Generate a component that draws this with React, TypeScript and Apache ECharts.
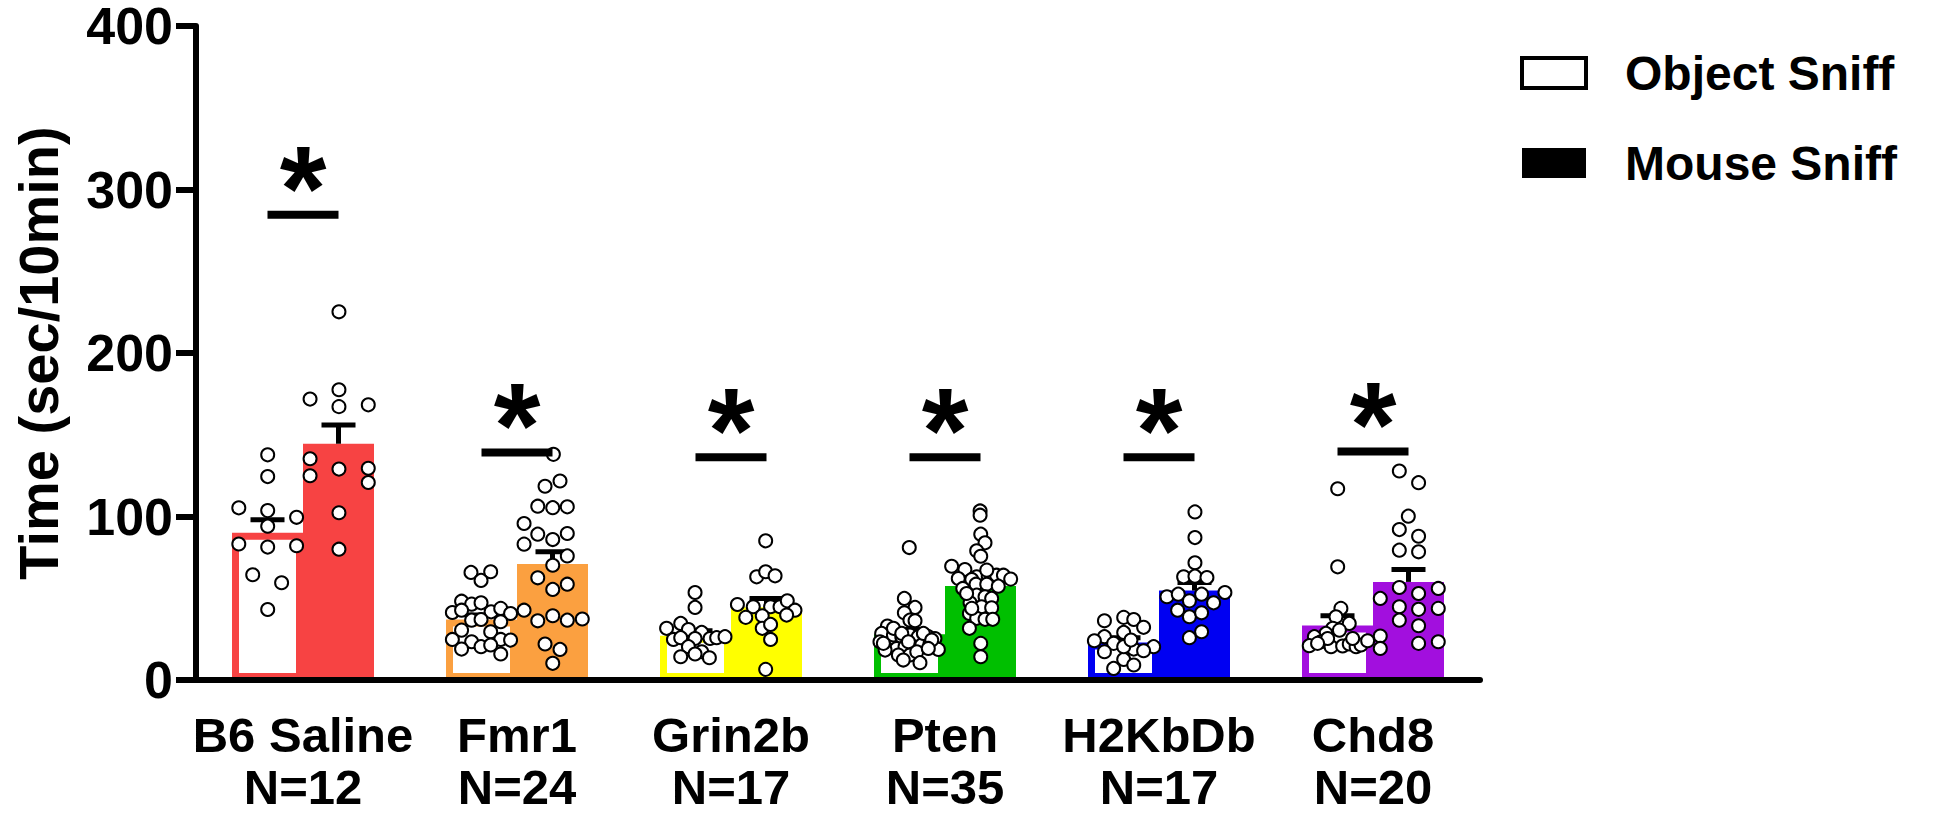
import React, { useEffect, useRef } from "react";
import * as echarts from "echarts";

const FONT = "'Liberation Sans', Arial, Helvetica, sans-serif";

const categories = ["B6 Saline", "Fmr1", "Grin2b", "Pten", "H2KbDb", "Chd8"];
const nLabels = ["N=12", "N=24", "N=17", "N=35", "N=17", "N=20"];
const groupColors = ["#F74343", "#FBA040", "#FFFF00", "#00BF00", "#0000F2", "#A20FDE"];

const objectMean = [90, 37, 27, 28, 23, 33.3];
const objectSem = [8, 2.7, 3.1, 2.9, 2.9, 6];
const mouseMean = [144.5, 71, 44.5, 57.5, 54.7, 60];
const mouseSem = [11.5, 7.4, 5.4, 3, 4.9, 7.6];
const sigLine = [284.6, 139.2, 136.2, 136.2, 136.2, 139.8];

const yMin = 0;
const yMax = 400;
const yInterval = 100;

// individual animals: [offset from group centre in category widths, value]
const b6Object = [[-0.3, 105.3], [-0.165, 137.7], [-0.165, 124.4], [-0.165, 103.6], [-0.165, 94.1], [-0.03, 99.5], [-0.3, 83.2], [-0.165, 81.3], [-0.03, 82.1], [-0.235, 64.4], [-0.1, 59.5], [-0.165, 43.1]];
const b6Mouse = [[0.168, 225.2], [0.033, 171.8], [0.168, 177.5], [0.168, 167.2], [0.305, 168.3], [0.033, 135.3], [0.033, 124.9], [0.168, 129], [0.305, 129.5], [0.305, 120.8], [0.168, 102.3], [0.168, 80]];

const fmr1Object = [[-0.215, 65.8], [-0.123, 66.2], [-0.168, 60.9], [-0.259, 48.2], [-0.212, 46.4], [-0.168, 47.2], [-0.302, 41.3], [-0.259, 42.7], [-0.121, 41.7], [-0.076, 43.8], [-0.03, 40.7], [-0.212, 36.6], [-0.168, 37.0], [-0.076, 35.6], [-0.259, 30.5], [-0.123, 29.5], [-0.302, 24.8], [-0.212, 23.4], [-0.076, 24.8], [-0.03, 24.4], [-0.259, 18.9], [-0.168, 20.4], [-0.123, 21.4], [-0.076, 15.9]];
const fmr1Mouse = [[0.17, 138.0], [0.131, 118.5], [0.201, 121.7], [0.097, 106.3], [0.167, 105.4], [0.235, 105.9], [0.033, 95.7], [0.097, 89.2], [0.167, 85.9], [0.235, 89.6], [0.033, 83.1], [0.235, 75.9], [0.167, 70.2], [0.097, 62.5], [0.235, 58.6], [0.167, 55.4], [0.033, 42.7], [0.097, 36.2], [0.167, 39.3], [0.235, 36.6], [0.305, 37.3], [0.131, 22.0], [0.201, 18.7], [0.167, 10.2]];

const grin2bObject = [[-0.168, 53.5], [-0.168, 44.4], [-0.235, 34.6], [-0.301, 31.6], [-0.199, 30.9], [-0.137, 29.1], [-0.269, 24.8], [-0.235, 25.9], [-0.168, 25.4], [-0.098, 25.4], [-0.067, 25.9], [-0.028, 26.5], [-0.199, 20.4], [-0.137, 17.3], [-0.235, 14.2], [-0.168, 15.9], [-0.101, 13.6]];
const grin2bMouse = [[0.162, 85.1], [0.12, 63.1], [0.162, 66.2], [0.206, 63.7], [0.03, 46.2], [0.104, 44.8], [0.185, 44.8], [0.229, 44.8], [0.263, 48.4], [0.299, 42.7], [0.26, 39.7], [0.069, 38.3], [0.146, 39.3], [0.146, 31.6], [0.185, 34.0], [0.185, 24.8], [0.162, 6.5]];

const ptenObject = [[-0.167, 81.0], [-0.19, 49.9], [-0.14, 44.4], [-0.19, 41.1], [-0.164, 36.6], [-0.14, 36.2], [-0.269, 33.0], [-0.296, 28.5], [-0.241, 27.5], [-0.202, 26.5], [-0.164, 27.5], [-0.125, 26.5], [-0.078, 26.5], [-0.047, 25.4], [-0.304, 23.4], [-0.273, 19.3], [-0.226, 19.3], [-0.187, 20.4], [-0.148, 20.4], [-0.109, 21.4], [-0.07, 22.4], [-0.031, 18.7], [-0.218, 15.3], [-0.164, 15.3], [-0.132, 17.3], [-0.117, 10.6], [-0.28, 18.3], [-0.241, 31.6], [-0.202, 28.5], [-0.101, 28.5], [-0.062, 24.4], [-0.288, 22.4], [-0.171, 23.4], [-0.078, 19.3], [-0.195, 12.2]];
const ptenMouse = [[0.164, 103.4], [0.164, 100.8], [0.167, 89.2], [0.187, 83.9], [0.148, 79.0], [0.167, 75.7], [0.031, 69.6], [0.093, 67.6], [0.148, 63.1], [0.202, 63.5], [0.241, 64.1], [0.273, 64.1], [0.307, 61.7], [0.062, 62.1], [0.125, 61.5], [0.083, 56.0], [0.145, 58.6], [0.195, 58.6], [0.249, 57.4], [0.148, 51.9], [0.187, 50.9], [0.218, 49.9], [0.117, 47.2], [0.171, 44.8], [0.218, 44.2], [0.114, 40.7], [0.148, 37.7], [0.187, 37.1], [0.223, 37.1], [0.114, 31.6], [0.167, 22.4], [0.167, 14.2], [0.101, 52.9], [0.195, 67.2], [0.125, 43.8]];

const h2Object = [[-0.255, 36.2], [-0.165, 38.3], [-0.118, 37.0], [-0.072, 32.2], [-0.165, 29.1], [-0.255, 26.5], [-0.302, 24.0], [-0.212, 22.4], [-0.118, 18.9], [-0.025, 20.4], [-0.072, 17.9], [-0.255, 17.3], [-0.165, 12.6], [-0.118, 9.2], [-0.212, 7.1], [-0.165, 20.4], [-0.131, 24.4]];
const h2Mouse = [[0.168, 102.8], [0.168, 87.1], [0.168, 71.7], [0.115, 63.1], [0.168, 63.5], [0.224, 62.7], [0.037, 50.9], [0.09, 52.5], [0.142, 48.4], [0.199, 52.5], [0.255, 47.2], [0.308, 53.5], [0.087, 42.7], [0.142, 38.7], [0.199, 41.1], [0.142, 25.9], [0.199, 29.5]];

const chd8Object = [[-0.165, 117.0], [-0.165, 69.2], [-0.15, 43.8], [-0.173, 38.7], [-0.111, 34.6], [-0.188, 31.6], [-0.22, 28.5], [-0.274, 26.5], [-0.157, 30.5], [-0.298, 21.0], [-0.243, 23.4], [-0.196, 20.4], [-0.142, 20.8], [-0.111, 22.0], [-0.079, 20.4], [-0.056, 21.4], [-0.025, 24.0], [-0.212, 25.4], [-0.095, 25.4], [-0.259, 22.4]];
const chd8Mouse = [[0.123, 127.8], [0.213, 120.7], [0.165, 100.2], [0.123, 92.0], [0.213, 87.9], [0.123, 79.4], [0.213, 78.4], [0.123, 56.6], [0.213, 52.9], [0.305, 56.0], [0.034, 49.9], [0.123, 44.8], [0.213, 43.2], [0.305, 43.8], [0.123, 36.6], [0.213, 33.2], [0.213, 22.4], [0.305, 23.4], [0.034, 26.9], [0.034, 19.3]];

const pointGroups = [
  [b6Object, b6Mouse],
  [fmr1Object, fmr1Mouse],
  [grin2bObject, grin2bMouse],
  [ptenObject, ptenMouse],
  [h2Object, h2Mouse],
  [chd8Object, chd8Mouse],
];

const BAR_W = 71;

export default function App() {
  const ref = useRef<HTMLDivElement>(null);

  useEffect(() => {
    document.body.style.margin = "0";
    if (!ref.current) return;
    const chart = echarts.init(ref.current, undefined, { renderer: "svg" });

    const scatterData: number[][] = [];
    pointGroups.forEach((pair, i) => {
      pair.forEach((pts) => {
        pts.forEach(([dx, v]) => scatterData.push([i + dx, v]));
      });
    });

    const errData: number[][] = [];
    categories.forEach((_, i) => {
      errData.push([i, objectMean[i], objectSem[i], -1]);
      errData.push([i, mouseMean[i], mouseSem[i], 1]);
    });

    const sigData = sigLine.map((v, i) => [i, v]);

    const option: any = {
      animation: false,
      backgroundColor: "#ffffff",
      textStyle: { fontFamily: FONT },
      grid: { left: 196, top: 26, width: 1284, height: 654, containLabel: false, outerBoundsMode: "none" },
      legend: {
        orient: "vertical",
        left: 1515,
        top: 43,
        itemWidth: 64,
        itemHeight: 30,
        itemGap: 40,
        icon: "rect",
        selectedMode: false,
        textStyle: {
          fontSize: 48,
          fontWeight: "bold",
          fontFamily: FONT,
          color: "#000",
          lineHeight: 50,
          padding: [0, 0, 0, 34],
        },
        data: [
          { name: "Object Sniff", itemStyle: { color: "#ffffff", borderColor: "#000", borderWidth: 4 } },
          { name: "Mouse Sniff", itemStyle: { color: "#000000", borderWidth: 0 } },
        ],
      },
      xAxis: [
        {
          type: "category",
          data: categories,
          z: 10,
          axisLine: { onZero: false, lineStyle: { color: "#000", width: 6 } },
          axisTick: { alignWithLabel: true, length: 20, lineStyle: { color: "#000", width: 6 } },
          axisLabel: {
            interval: 0,
            margin: 29,
            fontSize: 49,
            fontWeight: "bold",
            fontFamily: FONT,
            color: "#000",
            lineHeight: 52,
            formatter: (v: string) => {
              const i = categories.indexOf(v);
              return v + "\n" + nLabels[i];
            },
          },
          splitLine: { show: false },
        },
        { type: "value", min: -0.5, max: 5.5, show: false },
      ],
      yAxis: {
        type: "value",
        min: yMin,
        max: yMax,
        interval: yInterval,
        z: 10,
        name: "Time (sec/10min)",
        nameLocation: "middle",
        nameGap: 130,
        nameTextStyle: { fontSize: 56, fontWeight: "bold", fontFamily: FONT, color: "#000" },
        axisLine: { show: true, onZero: false, lineStyle: { color: "#000", width: 6 } },
        axisTick: { show: true, length: 20, lineStyle: { color: "#000", width: 6 } },
        axisLabel: { margin: 23, fontSize: 52, lineHeight: 44, fontWeight: "bold", fontFamily: FONT, color: "#000" },
        splitLine: { show: false },
      },
      series: [
        {
          name: "Object Sniff",
          type: "bar",
          xAxisIndex: 0,
          barWidth: BAR_W,
          barGap: "0%",
          z: 2,
          data: objectMean.map((v, i) => ({
            value: v,
            itemStyle: { color: "#ffffff", borderColor: groupColors[i], borderWidth: 7 },
          })),
        },
        {
          name: "Mouse Sniff",
          type: "bar",
          xAxisIndex: 0,
          barWidth: BAR_W,
          barGap: "0%",
          z: 2,
          data: mouseMean.map((v, i) => ({ value: v, itemStyle: { color: groupColors[i] } })),
        },
        {
          type: "custom",
          xAxisIndex: 0,
          z: 3,
          encode: { x: 0, y: 1 },
          data: errData,
          renderItem: (params: any, api: any) => {
            const i = api.value(0);
            const m = api.value(1);
            const s = api.value(2);
            const side = api.value(3);
            const base = api.coord([i, m]);
            const top = api.coord([i, m + s]);
            const x = base[0] + (side * BAR_W) / 2;
            const st = { stroke: "#000", lineWidth: 5 };
            return {
              type: "group",
              children: [
                { type: "line", shape: { x1: x, y1: base[1], x2: x, y2: top[1] }, style: st },
                { type: "line", shape: { x1: x - 17, y1: top[1], x2: x + 17, y2: top[1] }, style: st },
              ],
            };
          },
        },
        {
          type: "scatter",
          xAxisIndex: 1,
          z: 4,
          symbol: "circle",
          symbolSize: 13,
          itemStyle: { color: "#ffffff", borderColor: "#000", borderWidth: 2, opacity: 1 },
          data: scatterData,
        },
        {
          type: "custom",
          xAxisIndex: 0,
          z: 5,
          encode: { x: 0, y: 1 },
          data: sigData,
          renderItem: (params: any, api: any) => {
            const p = api.coord([api.value(0), api.value(1)]);
            return {
              type: "group",
              children: [
                {
                  type: "line",
                  shape: { x1: p[0] - BAR_W / 2, y1: p[1], x2: p[0] + BAR_W / 2, y2: p[1] },
                  style: { stroke: "#000", lineWidth: 8 },
                },
                {
                  type: "text",
                  style: {
                    text: "*",
                    x: p[0],
                    y: p[1] - 27,
                    align: "center",
                    verticalAlign: "middle",
                    fontSize: 120,
                    fontWeight: "bold",
                    fontFamily: FONT,
                    fill: "#000",
                  },
                },
              ],
            };
          },
        },
      ],
    };

    chart.setOption(option);
    return () => chart.dispose();
  }, []);

  return <div ref={ref} style={{ width: 1952, height: 813 }} />;
}
